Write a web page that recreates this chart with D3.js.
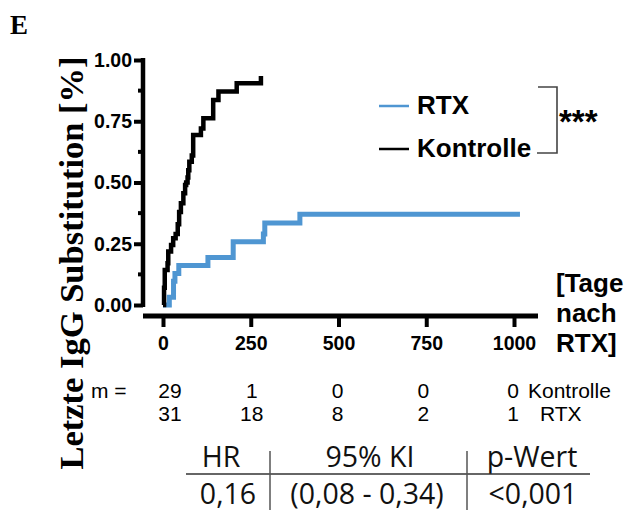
<!DOCTYPE html>
<html>
<head>
<meta charset="utf-8">
<script src="https://cdn.jsdelivr.net/npm/d3@7"></script>
<style>
  html, body { margin: 0; padding: 0; background: #fff; }
  svg { display: block; }
</style>
</head>
<body>
<div id="chart"></div>
<script>
// ---------- data ----------
const kontrolleTime  = [0, 3, 5, 13, 15, 23, 29, 36, 42, 46, 51, 58, 63, 66, 70, 72, 75, 82, 86, 108, 115, 143, 158, 210, 279];
const kontrolleValue = [0, 0.07, 0.143, 0.17, 0.218, 0.245, 0.272, 0.29, 0.33, 0.38, 0.415, 0.456, 0.49, 0.50, 0.52, 0.55, 0.585, 0.61, 0.694, 0.72, 0.762, 0.837, 0.871, 0.905, 0.935];
const rtxTime  = [0, 18, 30, 34, 45, 128, 200, 286, 290, 390, 1017];
const rtxValue = [0, 0.032, 0.097, 0.129, 0.161, 0.194, 0.258, 0.29, 0.335, 0.37, 0.37];

const xTicks = [0, 250, 500, 750, 1000];
const yTicks = [0, 0.25, 0.5, 0.75, 1.0];
const yMinorTicks = [0.125, 0.375, 0.625, 0.875];
const atRiskKontrolle = [29, 1, 0, 0, 0];
const atRiskRTX = [31, 18, 8, 2, 1];
const seriesNames = ["RTX", "Kontrolle"];
const statsHeader = ["HR", "95% KI", "p-Wert"];
const statsValues = ["0,16", "(0,08 - 0,34)", "<0,001"];

// ---------- layout ----------
const W = 631, H = 517;
const svg = d3.select("#chart").append("svg").attr("width", W).attr("height", H);

const x = d3.scaleLinear().domain([0, 1000]).range([163, 514]);
const y = d3.scaleLinear().domain([0, 1]).range([305, 60]);
const axisXStart = 143, axisXEnd = 538, axisY = 316;
const yAxisX = 143;

const blue = "#4f96d2";
const tickFont = "'Liberation Sans', Arial, sans-serif";

// Panel letter
svg.append("text").attr("x", 10).attr("y", 34)
  .attr("font-family", "'Liberation Serif', 'Times New Roman', serif")
  .attr("font-weight", "bold").attr("font-size", 27).text("E");

// Y axis label
svg.append("text")
  .attr("transform", "translate(83,263) rotate(-90)")
  .attr("text-anchor", "middle")
  .attr("font-family", "'Liberation Serif', 'Times New Roman', serif")
  .attr("font-weight", "bold").attr("font-size", 34.5)
  .text("Letzte IgG Substitution [%]");

// Y axis
const yAxisG = svg.append("g").attr("transform", `translate(${yAxisX},0)`)
  .call(d3.axisLeft(y).tickValues(yTicks).tickFormat(d3.format(".2f")).tickSize(9).tickPadding(2));
yAxisG.select(".domain").remove();
yAxisG.selectAll(".tick line").attr("stroke", "#000").attr("stroke-width", 4);
yAxisG.selectAll(".tick text").attr("font-family", tickFont).attr("font-weight", "bold")
  .attr("font-size", 19.5).attr("fill", "#000");
yAxisG.append("line").attr("x1", 0).attr("x2", 0).attr("y1", y(1) - 2).attr("y2", y(0) + 2)
  .attr("stroke", "#000").attr("stroke-width", 4.5);
yAxisG.selectAll(".minor").data(yMinorTicks).enter().append("line")
  .attr("x1", -5).attr("x2", 0).attr("y1", d => y(d)).attr("y2", d => y(d))
  .attr("stroke", "#000").attr("stroke-width", 4);

// X axis
const xAxisG = svg.append("g").attr("transform", `translate(0,${axisY})`)
  .call(d3.axisBottom(x).tickValues(xTicks).tickFormat(d3.format("d")).tickSize(11).tickPadding(9));
xAxisG.select(".domain").remove();
xAxisG.selectAll(".tick line").attr("stroke", "#000").attr("stroke-width", 4);
xAxisG.selectAll(".tick text").attr("font-family", tickFont).attr("font-weight", "bold")
  .attr("font-size", 19.5).attr("fill", "#000");
xAxisG.append("line").attr("x1", axisXStart).attr("x2", axisXEnd).attr("y1", 0).attr("y2", 0)
  .attr("stroke", "#000").attr("stroke-width", 5);

// X axis title
const xt = svg.append("text").attr("font-family", tickFont).attr("font-weight", "bold")
  .attr("font-size", 26).attr("fill", "#000");
["[Tage", "nach", "RTX]"].forEach((s, i) => {
  xt.append("tspan").attr("x", 556).attr("y", 292 + i * 30).text(s);
});

// Curves
const line = d3.line().x(d => x(d[0])).y(d => y(d[1])).curve(d3.curveStepAfter);
const rtxData = rtxTime.map((t, i) => [t, rtxValue[i]]);
const kontData = kontrolleTime.map((t, i) => [t, kontrolleValue[i]]);
svg.append("path").datum(rtxData).attr("d", line).attr("fill", "none")
  .attr("stroke", blue).attr("stroke-width", 5);
svg.append("path").datum(kontData).attr("d", line).attr("fill", "none")
  .attr("stroke", "#000").attr("stroke-width", 4.5);

// Legend
const legColors = [blue, "#000"];
const legY = [106, 149];
seriesNames.forEach((n, i) => {
  svg.append("line").attr("x1", 379).attr("x2", 409).attr("y1", legY[i]).attr("y2", legY[i])
    .attr("stroke", legColors[i]).attr("stroke-width", 2.5);
  svg.append("text").attr("x", 417).attr("y", legY[i] + 8)
    .attr("font-family", tickFont).attr("font-weight", "bold").attr("font-size", 26)
    .attr("fill", "#000").text(n);
});
// Bracket
svg.append("path").attr("d", "M538,87 H557 V153 H537").attr("fill", "none")
  .attr("stroke", "#444").attr("stroke-width", 1.6);
svg.append("text").attr("x", 559).attr("y", 133)
  .attr("font-family", tickFont).attr("font-weight", "bold").attr("font-size", 33)
  .attr("fill", "#000").text("***");

// Numbers at risk
const riskFont = 21;
const colOffset = [7, 1, -1, -3, -1];
svg.append("text").attr("x", 91).attr("y", 398).attr("font-family", tickFont)
  .attr("font-size", riskFont).attr("fill", "#000").text("m =");
xTicks.forEach((t, i) => {
  svg.append("text").attr("x", x(t) + colOffset[i]).attr("y", 398).attr("text-anchor", "middle")
    .attr("font-family", tickFont).attr("font-size", riskFont).text(atRiskKontrolle[i]);
  svg.append("text").attr("x", x(t) + colOffset[i]).attr("y", 421).attr("text-anchor", "middle")
    .attr("font-family", tickFont).attr("font-size", riskFont).text(atRiskRTX[i]);
});
svg.append("text").attr("x", 528).attr("y", 398).attr("font-family", tickFont)
  .attr("font-size", riskFont).text("Kontrolle");
svg.append("text").attr("x", 540).attr("y", 421).attr("font-family", tickFont)
  .attr("font-size", riskFont).text("RTX");

// Stats table
const statFont = "'Open Sans', 'Noto Sans', sans-serif";
const statSize = 28.5;
const headX = [221, 370, 532];
const valX = [228, 367, 533];
statsHeader.forEach((s, i) => {
  svg.append("text").attr("x", headX[i]).attr("y", 467).attr("text-anchor", "middle")
    .attr("font-family", statFont).attr("font-size", statSize).attr("fill", "#111").text(s);
});
statsValues.forEach((s, i) => {
  svg.append("text").attr("x", valX[i]).attr("y", 504).attr("text-anchor", "middle")
    .attr("font-family", statFont).attr("font-size", statSize).attr("fill", "#111").text(s);
});
svg.append("line").attr("x1", 186).attr("x2", 590).attr("y1", 474).attr("y2", 474)
  .attr("stroke", "#333").attr("stroke-width", 1.5);
[270, 467].forEach(vx => {
  svg.append("line").attr("x1", vx).attr("x2", vx).attr("y1", 451).attr("y2", 510)
    .attr("stroke", "#555").attr("stroke-width", 1.5);
});
</script>
</body>
</html>
